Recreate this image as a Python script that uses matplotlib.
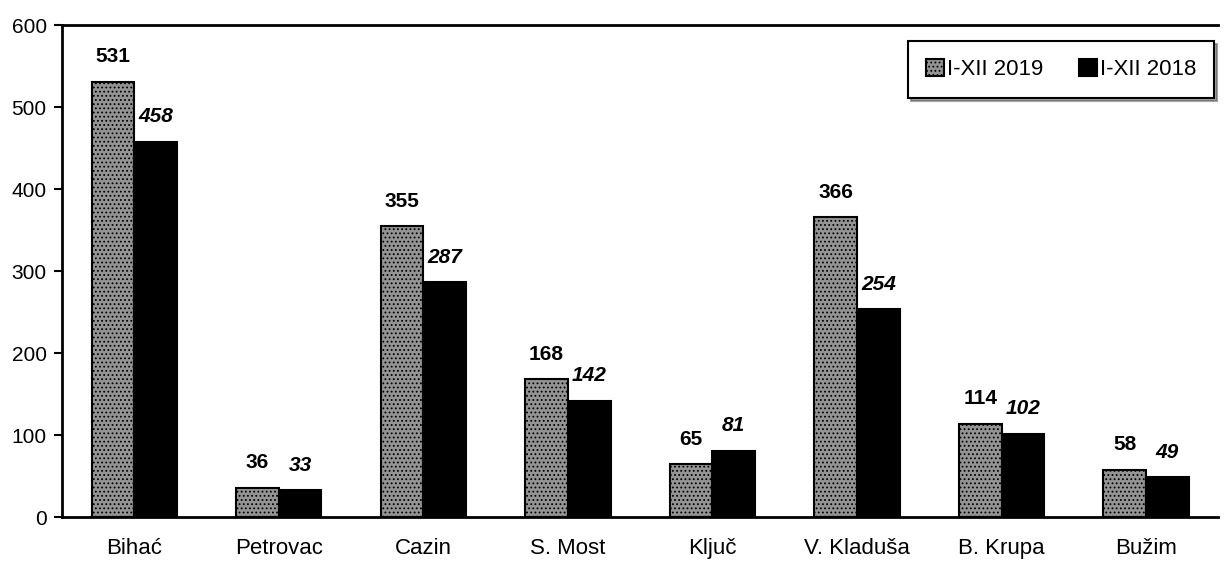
import matplotlib
matplotlib.use("Agg")
import matplotlib.pyplot as plt
import numpy as np

towns = ["Bihać", "Petrovac", "Cazin", "S. Most", "Ključ", "V. Kladuša", "B. Krupa", "Bužim"]
vals_2019 = [531, 36, 355, 168, 65, 366, 114, 58]
vals_2018 = [458, 33, 287, 142, 81, 254, 102, 49]

plt.rcParams["font.family"] = ["Liberation Sans", "DejaVu Sans"]
plt.rcParams["hatch.color"] = "#555555"
plt.rcParams["hatch.linewidth"] = 0.8

fig = plt.figure(figsize=(12.25, 5.69), dpi=100)
ax = fig.add_axes([0.0506, 0.091, 0.944, 0.865])

x = np.arange(len(towns))
w = 0.295
b1 = ax.bar(x - w / 2, vals_2019, w, color="#949494", hatch="....",
            edgecolor="black", linewidth=1.5, label="I-XII 2019")
b2 = ax.bar(x + w / 2, vals_2018, w, color="black",
            edgecolor="black", linewidth=1.5, label="I-XII 2018")

ax.bar_label(b1, padding=11, fontsize=15, fontweight="bold")
ax.bar_label(b2, padding=11, fontsize=15, fontweight="bold", fontstyle="italic")

ax.set_xlim(-0.5, len(towns) - 0.5)
ax.set_ylim(0, 600)
ax.set_yticks(range(0, 601, 100))
ax.set_xticks(x)
ax.set_xticklabels(towns, fontsize=16)
ax.tick_params(axis="x", length=0, pad=15)
ax.tick_params(axis="y", length=6, width=1.5, labelsize=15, pad=5)
for s in ["left", "bottom", "top"]:
    ax.spines[s].set_linewidth(2)
ax.spines["right"].set_visible(False)

leg = ax.legend(loc="upper right", bbox_to_anchor=(1.006, 0.99), ncol=2,
                fontsize=16, frameon=True, fancybox=False, shadow=True,
                handlelength=0.8, handleheight=0.8, handletextpad=0.15,
                columnspacing=1.6, borderpad=0.8, edgecolor="black")
leg.get_frame().set_linewidth(1.5)

fig.savefig("out.png", dpi=100)
